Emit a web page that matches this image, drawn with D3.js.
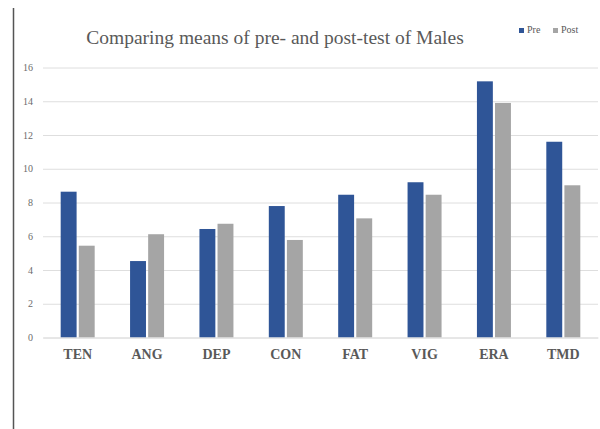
<!DOCTYPE html>
<html>
<head>
<meta charset="utf-8">
<script src="https://cdn.jsdelivr.net/npm/d3@7"></script>
<style>
  body { margin: 0; background: #fff; }
  svg { display: block; }
</style>
</head>
<body>
<svg id="chart" width="600" height="429"></svg>
<script>
// data
const categories = ["TEN", "ANG", "DEP", "CON", "FAT", "VIG", "ERA", "TMD"];
const series_names = ["Pre", "Post"];
const pre_values = [8.64, 4.53, 6.43, 7.79, 8.46, 9.2, 15.18, 11.6];
const post_values = [5.44, 6.12, 6.74, 5.78, 7.06, 8.46, 13.9, 9.02];
const y_ticks = [0, 2, 4, 6, 8, 10, 12, 14, 16];

const colors = { Pre: "#2f5597", Post: "#a5a5a5" };
const font = "'Liberation Serif', 'Times New Roman', serif";

const svg = d3.select("#chart");

// left page border
svg.append("line")
  .attr("x1", 13.5).attr("x2", 13.5)
  .attr("y1", 8).attr("y2", 429)
  .attr("stroke", "#555").attr("stroke-width", 1.5);

const x = d3.scaleBand()
  .domain(categories)
  .range([43, 598]);

const x_inner = d3.scaleBand()
  .domain(series_names)
  .range([0, 34])
  .paddingInner(0.12);

const y = d3.scaleLinear()
  .domain([0, 16])
  .range([337.5, 67.5]);

// Y axis + gridlines
const y_axis = svg.append("g")
  .attr("transform", "translate(43, 0)")
  .call(d3.axisLeft(y).tickValues(y_ticks).tickSize(0).tickPadding(10))
  .call((g) => g.select(".domain").remove())
  .call((g) =>
    g.selectAll(".tick line")
      .clone()
      .attr("x2", 555)
      .attr("stroke", "#dedede")
      .attr("stroke-width", 1),
  );

y_axis.selectAll(".tick text")
  .attr("font-family", font)
  .attr("font-size", 10)
  .attr("fill", "#6b6b6b");

// bars
const rows = categories.map((c, i) => ({
  category: c,
  values: [
    { name: "Pre", value: pre_values[i] },
    { name: "Post", value: post_values[i] },
  ],
}));

svg.append("g")
  .selectAll("g")
  .data(rows)
  .join("g")
  .attr("transform", (d) => `translate(${x(d.category) + (x.bandwidth() - 34) / 2}, 0)`)
  .selectAll("rect")
  .data((d) => d.values)
  .join("rect")
  .attr("x", (d) => x_inner(d.name))
  .attr("width", x_inner.bandwidth())
  .attr("y", (d) => y(d.value))
  .attr("height", (d) => y(0) - y(d.value))
  .attr("fill", (d) => colors[d.name]);

// X axis
const x_axis = svg.append("g")
  .attr("transform", `translate(0, ${y(0)})`)
  .call(d3.axisBottom(x).tickSize(0).tickPadding(12))
  .call((g) => g.select(".domain").attr("stroke", "#dedede"));

x_axis.selectAll(".tick text")
  .attr("font-family", font)
  .attr("font-size", 14)
  .attr("font-weight", "bold")
  .attr("fill", "#595959");

// title
svg.append("text")
  .attr("x", 275)
  .attr("y", 44)
  .attr("text-anchor", "middle")
  .attr("font-family", font)
  .attr("font-size", 19.5)
  .attr("fill", "#595959")
  .text("Comparing means of pre- and post-test of Males");

// legend
const legend = svg.append("g")
  .attr("transform", "translate(519, 33)")
  .selectAll("g")
  .data(series_names)
  .join("g")
  .attr("transform", (d, i) => `translate(${i * 34}, 0)`);

legend.append("rect")
  .attr("x", 0).attr("y", -5)
  .attr("width", 5).attr("height", 5)
  .attr("fill", (d) => colors[d]);

legend.append("text")
  .attr("x", 8)
  .attr("y", 0)
  .attr("font-family", font)
  .attr("font-size", 10)
  .attr("fill", "#595959")
  .text((d) => d);
</script>
</body>
</html>
